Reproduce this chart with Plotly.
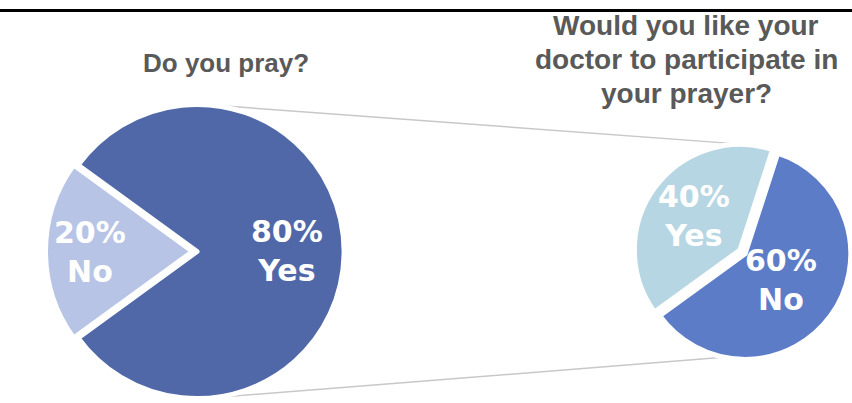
import math
import plotly.graph_objects as go

# ---- data ----
pray_labels = ["Yes", "No"]
pray_values = [80, 20]
doctor_labels = ["Yes", "No"]
doctor_values = [40, 60]
title_pray = "Do you pray?"
title_doctor_lines = ["Would you like your", "doctor to participate in", "your prayer?"]

# ---- layout constants (pixels) ----
W, H = 852, 403
L_CX, L_CY, L_PULL, L_HALF, L_ROT = 197, 251.5, 0.03, 151.5, -54
R_CX, R_CY, R_PULL, R_HALF, R_ROT = 740, 250, 0.06, 112, -126
L_COLORS = ["#5068A8", "#B7C4E6"]
R_COLORS = ["#B7D6E3", "#5D7CC8"]
L_LABEL_R = [0.61, 0.70]   # radial position of labels (fraction of radius)
R_LABEL_R = [0.54, 0.42]


def dom(cx, cy, half):
    return dict(x=[(cx - half) / W, (cx + half) / W],
                y=[1 - (cy + half) / H, 1 - (cy - half) / H])


label_font = dict(family="DejaVu Sans", size=30, color="white", weight="bold")
annotations = []


def add_pie(fig, labels, values, cx, cy, half, pull, rot, colors, label_r):
    pulls = [0] * (len(values) - 1) + [pull]
    fig.add_trace(go.Pie(
        labels=labels, values=values, sort=False, direction="clockwise",
        rotation=rot, pull=pulls,
        marker=dict(colors=colors, line=dict(color="white", width=5)),
        textinfo="none", hoverinfo="label+percent",
        domain=dom(cx, cy, half), showlegend=False,
    ))
    r = half / (1 + pull)
    total = sum(values)
    start = rot
    for lab, val, p, fr in zip(labels, values, pulls, label_r):
        mid = math.radians(start + 180 * val / total)  # clockwise from 12 o'clock
        d = (fr + p) * r
        x = cx + d * math.sin(mid)
        y = cy - d * math.cos(mid)
        annotations.append(dict(
            text=f"{round(100 * val / total)}%<br>{lab}", x=x / W, y=1 - y / H,
            xref="paper", yref="paper", showarrow=False,
            xanchor="center", yanchor="middle", font=label_font))
        start += 360 * val / total
    return r


fig = go.Figure()
r1 = add_pie(fig, pray_labels, pray_values, L_CX, L_CY, L_HALF, L_PULL, L_ROT, L_COLORS, L_LABEL_R)
r2 = add_pie(fig, doctor_labels, doctor_values, R_CX, R_CY, R_HALF, R_PULL, R_ROT, R_COLORS, R_LABEL_R)

# connector lines: external tangents between the two pies
dx, dy = R_CX - L_CX, R_CY - L_CY
D = math.hypot(dx, dy)
th = math.atan2(dy, dx)
phi = math.acos((r1 - r2) / D)
shapes = []
for sgn in (-1, 1):
    a = th + sgn * phi
    nx, ny = math.cos(a), math.sin(a)
    x0, y0 = L_CX + r1 * nx, L_CY + r1 * ny
    x1, y1 = R_CX + r2 * nx, R_CY + r2 * ny
    shapes.append(dict(type="line", xref="paper", yref="paper", layer="below",
                       x0=x0 / W, y0=1 - y0 / H, x1=x1 / W, y1=1 - y1 / H,
                       line=dict(color="#C8C8C8", width=1.5)))
# top black rule
shapes.append(dict(type="line", xref="paper", yref="paper",
                   x0=0, x1=1, y0=1 - 10.5 / H, y1=1 - 10.5 / H,
                   line=dict(color="black", width=3)))

title_font = dict(family="Liberation Sans, Arial", color="#595959", weight="bold")
annotations.append(dict(text=title_pray, x=226 / W, y=1 - 63 / H, xref="paper", yref="paper",
                        showarrow=False, xanchor="center", yanchor="middle",
                        font=dict(size=26, **title_font)))
TITLE2_X, TITLE2_Y0, TITLE2_DY = 686, 26, 34
for i, line in enumerate(title_doctor_lines):
    annotations.append(dict(text=line, x=TITLE2_X / W, y=1 - (TITLE2_Y0 + i * TITLE2_DY) / H,
                            xref="paper", yref="paper", showarrow=False,
                            xanchor="center", yanchor="middle",
                            font=dict(size=28, **title_font)))

fig.update_layout(width=W, height=H, margin=dict(l=0, r=0, t=0, b=0),
                  paper_bgcolor="white", plot_bgcolor="white",
                  shapes=shapes, annotations=annotations)
fig.write_html("out.html", config={"displayModeBar": False},
               post_script="document.body.style.margin='0';")
